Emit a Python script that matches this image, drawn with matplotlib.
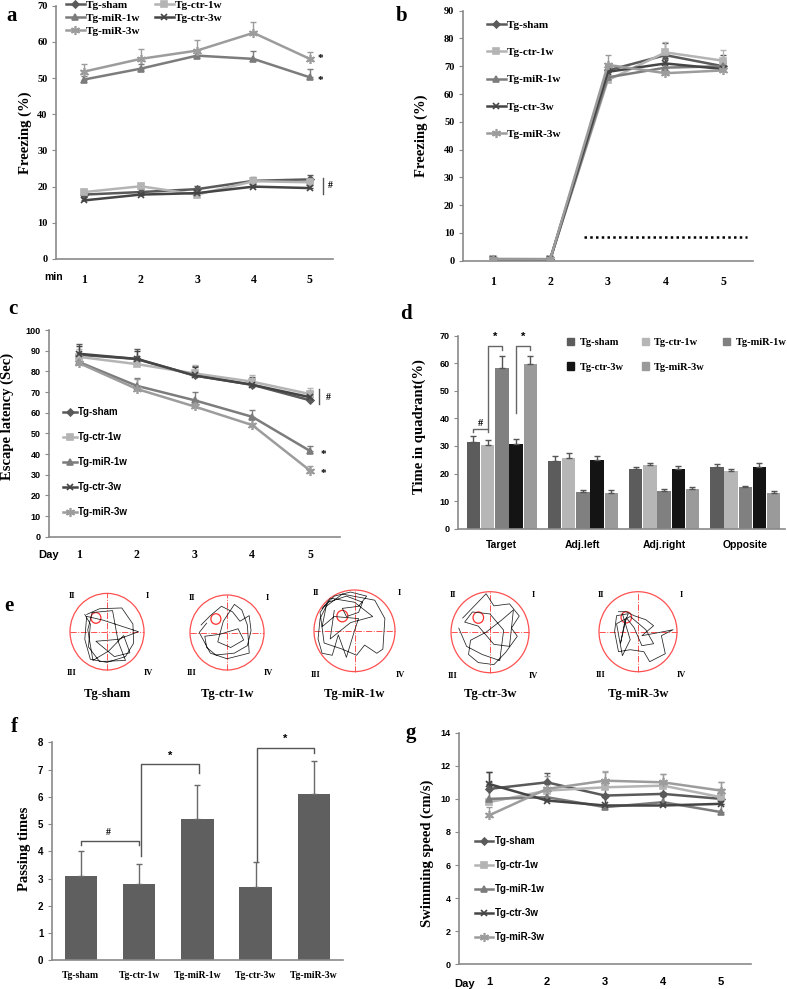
import numpy as np
import matplotlib
matplotlib.use("Agg")
import matplotlib.pyplot as plt
from matplotlib.lines import Line2D
from matplotlib.patches import Patch, Ellipse

W, H = 787, 989
SERIF = "Liberation Serif"
SANS = "Liberation Sans"
plt.rcParams['font.family'] = SERIF
plt.rcParams['font.weight'] = 'bold'

# ---------------- data ----------------
groups = ["Tg-sham", "Tg-ctr-1w", "Tg-miR-1w", "Tg-ctr-3w", "Tg-miR-3w"]
steps = [1, 2, 3, 4, 5]

# panel a: freezing (%) per minute
a_vals = {
    "Tg-sham":   [17.8, 18.5, 19.3, 21.6, 22.0],
    "Tg-ctr-1w": [18.5, 20.1, 17.8, 21.5, 21.2],
    "Tg-miR-1w": [49.6, 52.6, 56.2, 55.3, 50.2],
    "Tg-ctr-3w": [16.2, 17.8, 18.2, 20.0, 19.6],
    "Tg-miR-3w": [51.8, 55.3, 57.6, 62.5, 55.3],
}
a_err = {
    "Tg-sham":   [0.8, 0.8, 1.0, 1.0, 1.2],
    "Tg-ctr-1w": [0.8, 0.8, 0.8, 0.8, 1.0],
    "Tg-miR-1w": [1.0, 1.2, 1.2, 2.2, 2.2],
    "Tg-ctr-3w": [0.8, 0.8, 0.8, 0.8, 0.8],
    "Tg-miR-3w": [2.2, 2.6, 3.0, 3.0, 2.0],
}
# panel b: freezing (%)
b_vals = {
    "Tg-sham":   [0.5, 0.5, 68.5, 74.0, 70.0],
    "Tg-ctr-1w": [0.7, 0.6, 65.0, 75.0, 72.0],
    "Tg-miR-1w": [0.5, 0.5, 66.0, 69.5, 70.0],
    "Tg-ctr-3w": [0.5, 0.5, 68.0, 71.0, 69.0],
    "Tg-miR-3w": [0.5, 0.5, 70.5, 67.5, 68.5],
}
b_err = {
    "Tg-sham":   [0.2, 0.2, 2.0, 4.5, 4.0],
    "Tg-ctr-1w": [0.2, 0.2, 2.0, 3.8, 3.8],
    "Tg-miR-1w": [0.2, 0.2, 2.0, 3.0, 2.0],
    "Tg-ctr-3w": [0.2, 0.2, 2.0, 2.0, 2.0],
    "Tg-miR-3w": [0.2, 0.2, 3.5, 2.0, 2.0],
}
b_dots_x = [2.58, 5.41]
b_dots_y = 8.7
# panel c: escape latency (sec)
c_vals = {
    "Tg-sham":   [88.0, 86.0, 78.0, 73.5, 66.0],
    "Tg-ctr-1w": [87.0, 83.5, 79.0, 75.0, 69.0],
    "Tg-miR-1w": [84.5, 73.0, 66.0, 58.0, 41.5],
    "Tg-ctr-3w": [88.5, 86.0, 78.0, 73.5, 67.5],
    "Tg-miR-3w": [84.0, 71.5, 63.0, 54.0, 32.0],
}
c_err = {
    "Tg-sham":   [5.0, 5.0, 4.5, 4.0, 4.0],
    "Tg-ctr-1w": [4.0, 4.0, 4.0, 3.0, 3.0],
    "Tg-miR-1w": [4.0, 4.0, 4.0, 3.5, 2.5],
    "Tg-ctr-3w": [4.0, 4.0, 4.0, 3.0, 3.0],
    "Tg-miR-3w": [4.0, 5.0, 3.0, 3.0, 2.0],
}
# panel d: time in quadrant (%)
quadrants = ["Target", "Adj.left", "Adj.right", "Opposite"]
d_vals = {
    "Tg-sham":   [31.5, 24.5, 21.5, 22.2],
    "Tg-ctr-1w": [30.2, 25.8, 23.0, 20.8],
    "Tg-miR-1w": [58.2, 13.2, 13.5, 15.0],
    "Tg-ctr-3w": [30.8, 25.0, 21.5, 22.5],
    "Tg-miR-3w": [59.8, 12.9, 14.3, 12.9],
}
d_err = {
    "Tg-sham":   [2.0, 2.0, 0.8, 1.2],
    "Tg-ctr-1w": [2.0, 1.6, 1.0, 0.8],
    "Tg-miR-1w": [4.5, 1.0, 0.8, 0.6],
    "Tg-ctr-3w": [1.7, 1.3, 1.2, 1.2],
    "Tg-miR-3w": [3.0, 1.0, 0.8, 0.9],
}
# panel e: swim trajectories (normalised arena coordinates)
traj = {
    "Tg-sham": [(-0.55,0.45),(-0.2,0.6),(0.4,0.62),(0.7,0.2),(0.72,-0.3),(0.5,-0.65),(0.0,-0.8),
                (-0.45,-0.72),(-0.6,-0.2),(-0.55,0.4),(-0.1,0.3),(0.85,0.0),(0.3,-0.2),(-0.3,-0.25),
                (0.2,-0.65),(0.62,-0.55),(0.45,-0.1),(0.05,-0.5),(-0.38,-0.75),(-0.52,0.05),(-0.4,0.5),
                (0.15,0.55),(0.3,-0.25),(0.5,-0.75),(-0.2,-0.78),(-0.5,-0.4),(-0.45,0.2),(-0.6,0.45)],
    "Tg-ctr-1w": [(-0.7,0.2),(-0.45,0.45),(-0.15,0.7),(0.15,0.55),(0.35,0.3),(0.6,0.45),(0.65,0.05),
                  (0.55,-0.35),(0.2,-0.55),(-0.3,-0.6),(-0.55,-0.4),(-0.6,-0.1),(-0.2,-0.05),(0.3,0.1),
                  (0.45,-0.2),(0.1,-0.4),(-0.25,-0.25),(-0.1,0.3),(0.2,0.75),(0.4,0.6),(0.55,0.2),
                  (0.6,-0.55),(0.0,-0.7),(-0.45,-0.55),(-0.75,0.0),(-0.55,0.25)],
    "Tg-miR-1w": [(-0.8,0.55),(-0.5,0.85),(-0.1,0.95),(0.3,0.85),(0.1,0.6),(-0.3,0.55),(-0.2,0.35),
                  (0.1,0.45),(0.2,0.7),(-0.2,0.85),(-0.65,0.7),(-0.85,0.3),(-0.9,-0.2),(-0.8,-0.55),
                  (-0.55,-0.6),(-0.4,-0.1),(-0.2,-0.65),(0.0,0.0),(0.1,0.3),(-0.5,0.35),(-0.8,0.1),
                  (-0.7,0.6),(-0.3,0.9),(0.5,0.75),(0.75,0.3),(0.7,-0.45),(0.55,-0.55),(0.25,-0.35),
                  (0.05,-0.6),(-0.3,-0.45),(-0.75,-0.3),(-0.85,0.45),(-0.6,0.8),(0.0,0.7),(0.45,0.35),
                  (-0.1,0.2),(-0.6,-0.2),(-0.5,0.5)],
    "Tg-ctr-3w": [(-0.7,0.35),(-0.4,0.65),(-0.1,0.95),(0.1,0.65),(0.5,0.7),(0.75,0.4),(0.55,0.1),
                  (0.7,-0.1),(0.4,-0.5),(0.1,-0.8),(-0.3,-0.75),(-0.55,-0.55),(-0.5,-0.2),(-0.1,0.0),
                  (0.3,0.3),(0.6,0.55),(0.5,-0.35),(0.1,-0.3),(-0.3,0.15),(-0.65,0.25),(-0.45,0.5),
                  (0.0,0.45),(0.35,0.05),(0.25,-0.7),(-0.2,-0.55),(-0.6,-0.35),(-0.8,0.1)],
    "Tg-miR-3w": [(-0.5,0.5),(-0.3,0.5),(-0.1,0.4),(0.2,0.3),(0.4,0.15),(0.1,-0.1),(0.65,0.0),
                  (0.9,0.05),(0.6,-0.1),(0.7,-0.55),(0.3,-0.75),(0.15,-0.5),(-0.2,-0.45),(-0.5,-0.5),
                  (-0.6,0.0),(-0.55,0.4),(-0.25,0.45),(-0.35,0.2),(-0.45,-0.3),(-0.3,0.35),(-0.1,0.1),
                  (0.1,-0.35),(0.4,-0.3),(0.2,0.05),(-0.2,0.38),(-0.55,0.2),(-0.4,-0.6),(-0.2,-0.2),
                  (-0.4,0.45)],
}
platform_xy = (-0.3, 0.36)
# panel f: passing times
f_vals = [3.1, 2.8, 5.2, 2.7, 6.1]
f_err = [0.9, 0.75, 1.25, 0.92, 1.22]
# panel g: swimming speed (cm/s)
g_vals = {
    "Tg-sham":   [10.6, 11.0, 10.2, 10.3, 10.0],
    "Tg-ctr-1w": [9.8, 10.5, 10.7, 10.8, 10.1],
    "Tg-miR-1w": [10.0, 10.1, 9.5, 9.8, 9.2],
    "Tg-ctr-3w": [10.9, 9.9, 9.6, 9.6, 9.7],
    "Tg-miR-3w": [9.0, 10.6, 11.1, 11.0, 10.5],
}
g_err = {
    "Tg-sham":   [1.0, 0.55, 0.6, 0.6, 0.6],
    "Tg-ctr-1w": [1.0, 0.6, 1.0, 0.7, 0.9],
    "Tg-miR-1w": [1.0, 0.8, 0.8, 0.6, 0.5],
    "Tg-ctr-3w": [0.7, 0.6, 0.5, 0.6, 0.6],
    "Tg-miR-3w": [0.5, 0.8, 0.55, 0.5, 0.5],
}

# ---------------- styles ----------------
line_style = {
    "Tg-sham":   dict(color="#5a5a5a", marker="D", ms=3.5),
    "Tg-ctr-1w": dict(color="#b4b4b4", marker="s", ms=5),
    "Tg-miR-1w": dict(color="#7c7c7c", marker="^", ms=5),
    "Tg-ctr-3w": dict(color="#454545", marker="x", ms=5),
    "Tg-miR-3w": dict(color="#9c9c9c", marker=(6, 2, 0), ms=6.5),
}
bar_colors = {"Tg-sham": "#5c5c5c", "Tg-ctr-1w": "#b6b6b6", "Tg-miR-1w": "#808080",
              "Tg-ctr-3w": "#141414", "Tg-miR-3w": "#9a9a9a"}
SPINE = "#8a8a8a"

fig = plt.figure(figsize=(W / 100, H / 100), dpi=100)


def axes_px(left, top, right, bottom):
    return fig.add_axes([left / W, 1 - bottom / H, (right - left) / W, (bottom - top) / H])


def style_axes(ax, yfont, yfs, xfont, xfs, xpad):
    for s in ["top", "right"]:
        ax.spines[s].set_visible(False)
    for s in ["left", "bottom"]:
        ax.spines[s].set_color(SPINE)
        ax.spines[s].set_linewidth(1.2)
    ax.tick_params(axis="y", direction="out", length=3, color=SPINE, pad=3)
    ax.tick_params(axis="x", length=0, pad=xpad)
    for t in ax.get_yticklabels():
        t.set_fontfamily(yfont); t.set_fontsize(yfs); t.set_fontweight("bold")
    for t in ax.get_xticklabels():
        t.set_fontfamily(xfont); t.set_fontsize(xfs); t.set_fontweight("bold")


def draw_lines(ax, vals, errs):
    handles = {}
    for g in groups:
        st = line_style[g]
        y = np.array(vals[g]); e = np.array(errs[g])
        ax.errorbar(steps, y, yerr=[np.zeros_like(e), e], fmt="none", ecolor=st["color"],
                    elinewidth=1, capsize=2, capthick=1, zorder=2)
        ln, = ax.plot(steps, y, color=st["color"], lw=1.8, marker=st["marker"], ms=st["ms"],
                      mec=st["color"], mfc=st["color"], mew=1.2, zorder=3, label=g)
        handles[g] = ln
    return handles


def panel_letter(txt, px, py):
    fig.text(px / W, 1 - py / H, txt, fontsize=15, fontweight="bold", family=SERIF,
             ha="center", va="center")

# ---------------- panel a ----------------
ax = axes_px(56, 5.7, 333, 259)
hd = draw_lines(ax, a_vals, a_err)
ax.set_xlim(0.5, 5.41); ax.set_ylim(0, 70)
ax.set_xticks(steps); ax.set_yticks(range(0, 71, 10))
style_axes(ax, SERIF, 7.5, SERIF, 8.5, 11)
ax.set_ylabel("Freezing (%)", fontsize=10.5, fontweight="bold", family=SERIF)
ax.yaxis.set_label_coords(-0.085, 0.5)
ax.text(0.025, -0.07, "min", transform=ax.transAxes, family=SANS, fontsize=7.5,
        fontweight="bold", ha="right", va="center")
ax.text(5.13, a_vals["Tg-miR-3w"][4], "*", fontsize=8, ha="left", va="center")
ax.text(5.13, a_vals["Tg-miR-1w"][4] - 0.8, "*", fontsize=8, ha="left", va="center")
ax.plot([5.24, 5.24], [18.1, 22.3], color="#555555", lw=1)
ax.text(5.36, 20.2, "#", fontsize=7, ha="center", va="center")
order2 = ["Tg-sham", "Tg-miR-1w", "Tg-miR-3w", "Tg-ctr-1w", "Tg-ctr-3w"]
leg = ax.legend([hd[g] for g in order2], order2, loc="upper left", ncol=2,
                bbox_to_anchor=(66 / W, 1 - 0.5 / H), bbox_transform=fig.transFigure,
                frameon=False, prop=dict(family=SERIF, weight="bold", size=8),
                handlelength=1.7, handletextpad=0.1, labelspacing=0.28, columnspacing=1.3,
                borderpad=0, borderaxespad=0)
panel_letter("a", 12, 16)

# ---------------- panel b ----------------
ax = axes_px(462.7, 10.7, 753, 260.7)
hd = draw_lines(ax, b_vals, b_err)
ax.plot(b_dots_x, [b_dots_y, b_dots_y], color="black", lw=1.8, ls=(0, (1, 1.3)))
ax.set_xlim(0.48, 5.52); ax.set_ylim(0, 90)
ax.set_xticks(steps); ax.set_yticks(range(0, 91, 10))
style_axes(ax, SERIF, 7.5, SERIF, 8.5, 11)
ax.set_ylabel("Freezing (%)", fontsize=10.5, fontweight="bold", family=SERIF)
ax.yaxis.set_label_coords(-0.118, 0.5)
ax.legend([hd[g] for g in groups], groups, loc="upper left",
          bbox_to_anchor=(487 / W, 1 - 20 / H), bbox_transform=fig.transFigure,
          frameon=False, prop=dict(family=SERIF, weight="bold", size=8),
          handlelength=1.7, handletextpad=0.1, labelspacing=1.58, borderpad=0, borderaxespad=0)
panel_letter("b", 402, 16)

# ---------------- panel c ----------------
ax = axes_px(49, 330, 340, 536.7)
hd = draw_lines(ax, c_vals, c_err)
ax.set_xlim(0.48, 5.52); ax.set_ylim(0, 100)
ax.set_xticks(steps); ax.set_yticks(range(0, 101, 10))
style_axes(ax, SANS, 6.5, SERIF, 8.5, 9)
ax.set_ylabel("Escape latency (Sec)", fontsize=10.5, fontweight="bold", family=SERIF)
ax.yaxis.set_label_coords(-0.12, 0.58)
ax.text(0.0, -0.09, "Day", transform=ax.transAxes, family=SANS, fontsize=8,
        fontweight="bold", ha="center", va="center")
ax.plot([5.16, 5.16], [64.2, 71.3], color="#555555", lw=1)
ax.text(5.31, 67.5, "#", fontsize=7, ha="center", va="center")
ax.text(5.24, c_vals["Tg-miR-1w"][4] - 1.5, "*", fontsize=8, ha="center", va="center")
ax.text(5.24, c_vals["Tg-miR-3w"][4] - 1.3, "*", fontsize=8, ha="center", va="center")
ax.legend([hd[g] for g in groups], groups, loc="upper left",
          bbox_to_anchor=(63 / W, 1 - 407 / H), bbox_transform=fig.transFigure,
          frameon=False, prop=dict(family=SANS, weight="bold", size=7),
          handlelength=1.4, handletextpad=0.1, labelspacing=1.55, borderpad=0, borderaxespad=0)
panel_letter("c", 13, 309)

# ---------------- panel d ----------------
ax = axes_px(458, 335.7, 785, 528.7)
xq = np.arange(len(quadrants))
bw = 0.165; step = 0.175
for i, g in enumerate(groups):
    xs = xq + (i - 2) * step
    ax.bar(xs, d_vals[g], width=bw, color=bar_colors[g], label=g, zorder=2)
    ax.errorbar(xs, d_vals[g], yerr=[np.zeros(len(xq)), d_err[g]], fmt="none",
                ecolor="#555555", elinewidth=1, capsize=2, capthick=1, zorder=3)
ax.set_xlim(-0.54, 3.49); ax.set_ylim(0, 70)
ax.set_xticks(xq); ax.set_xticklabels(quadrants); ax.set_yticks(range(0, 71, 10))
style_axes(ax, SANS, 6.5, SANS, 7.5, 8)
ax.set_ylabel("Time in quadrant(%)", fontsize=10.5, fontweight="bold", family=SERIF)
ax.yaxis.set_label_coords(-0.098, 0.53)
bk = dict(color="#666666", lw=1)
x_sh, x_c1, x_m1, x_c3, x_m3 = [(i - 2) * step for i in range(5)]
ax.plot([x_sh, x_sh, x_c1, x_c1], [35.2, 36.3, 36.3, 35.2], **bk)
ax.text((x_sh + x_c1) / 2, 38.0, "#", fontsize=7.5, ha="center", va="center")
ax.plot([x_c1, x_c1, x_m1, x_m1], [36.3, 66.4, 66.4, 64.8], **bk)
ax.text((x_c1 + x_m1) / 2, 69.5, "*", fontsize=8, ha="center", va="center", family=SANS)
ax.plot([x_c3, x_c3, x_m3, x_m3], [41.8, 66.4, 66.4, 64.8], **bk)
ax.text((x_c3 + x_m3) / 2, 69.5, "*", fontsize=8, ha="center", va="center", family=SANS)
hs = [Patch(color=bar_colors[g]) for g in groups]
ordd = [0, 3, 1, 4, 2]
ax.legend([hs[i] for i in ordd], [groups[i] for i in ordd], loc="upper left", ncol=3,
          bbox_to_anchor=(567 / W, 1 - 338 / H), bbox_transform=fig.transFigure,
          frameon=False, prop=dict(family=SERIF, weight="bold", size=7.5),
          handlelength=0.7, handleheight=0.7, handletextpad=0.5, labelspacing=1.45,
          columnspacing=1.75, borderpad=0, borderaxespad=0)
panel_letter("d", 406, 314)

# ---------------- panel e ----------------
arenas = [  # centre x, centre y, half width, half height (px)
    (107, 631.7, 37, 38.3), (227, 632.5, 37, 37.5), (354.5, 630.8, 40.5, 40.8),
    (490, 632.2, 39, 40.5), (638, 631.7, 39, 40)]
for g, (cx, cy, hw, hh) in zip(groups, arenas):
    ax = axes_px(cx - hw, cy - hh, cx + hw, cy + hh)
    ax.set_xlim(-1, 1); ax.set_ylim(-1, 1); ax.axis("off")
    ax.add_patch(Ellipse((0, 0), 2, 2, fill=False, ec="#ff5050", lw=0.9, clip_on=False))
    ax.plot([-1, 1], [0, 0], color="#ff5050", lw=0.7, ls="-.", clip_on=False)
    ax.plot([0, 0], [-1, 1], color="#ff5050", lw=0.7, ls="-.", clip_on=False)
    ax.add_patch(Ellipse(platform_xy, 0.27, 0.28, fill=False, ec="#ff3030", lw=0.9))
    pts = np.array(traj[g])
    ax.plot(pts[:, 0], pts[:, 1], color="#222222", lw=0.55, clip_on=False)
    rk = dict(fontsize=6, fontweight="bold", family=SERIF, ha="center", va="center")
    ax.text(-0.95, 0.92, "II", **rk); ax.text(1.1, 0.92, "I", **rk)
    ax.text(-0.97, -1.09, "III", **rk); ax.text(1.12, -1.09, "IV", **rk)
    fig.text(cx / W, 1 - 694 / H, g, fontsize=9, fontweight="bold", family=SERIF,
             ha="center", va="center")
panel_letter("e", 9, 606)

# ---------------- panel f ----------------
ax = axes_px(51.7, 742.3, 343, 960.3)
xf = np.arange(len(groups))
ax.bar(xf, f_vals, width=0.56, color="#5f5f5f", zorder=2)
ax.errorbar(xf, f_vals, yerr=[np.zeros(len(xf)), f_err], fmt="none", ecolor="#6a6a6a",
            elinewidth=1, capsize=2, capthick=1, zorder=3)
ax.set_xlim(-0.5, 4.5); ax.set_ylim(0, 8)
ax.set_xticks(xf); ax.set_xticklabels(groups); ax.set_yticks(range(0, 9))
style_axes(ax, SANS, 7, SERIF, 7, 8)
ax.set_ylabel("Passing times", fontsize=10.5, fontweight="bold", family=SERIF)
ax.yaxis.set_label_coords(-0.072, 0.51)
bk = dict(color="#555555", lw=1)
ax.plot([0, 0, 1, 1], [4.23, 4.39, 4.39, 4.23], **bk)
ax.text(0.47, 4.7, "#", fontsize=7, ha="center", va="center")
ax.plot([1.04, 1.04, 2.03, 2.03], [3.84, 7.19, 7.19, 6.89], **bk)
ax.text(1.54, 7.5, "*", fontsize=8, ha="center", va="center", family=SANS)
ax.plot([3.02, 3.02, 4.0, 4.0], [3.62, 7.8, 7.8, 7.62], **bk)
ax.text(3.5, 8.12, "*", fontsize=8, ha="center", va="center", family=SANS)
panel_letter("f", 14, 727)

# ---------------- panel g ----------------
ax = axes_px(459.3, 732.7, 750.7, 964.3)
hd = draw_lines(ax, g_vals, g_err)
ax.set_xlim(0.49, 5.51); ax.set_ylim(0, 14)
ax.set_xticks(steps); ax.set_yticks(range(0, 15, 2))
style_axes(ax, SANS, 6.5, SANS, 8, 9)
ax.set_ylabel("Swimming speed (cm/s)", fontsize=10.5, fontweight="bold", family=SERIF)
ax.yaxis.set_label_coords(-0.087, 0.48)
ax.text(0.017, -0.085, "Day", transform=ax.transAxes, family=SANS, fontsize=8,
        fontweight="bold", ha="center", va="center")
ax.legend([hd[g] for g in groups], groups, loc="upper left",
          bbox_to_anchor=(475 / W, 1 - 836 / H), bbox_transform=fig.transFigure,
          frameon=False, prop=dict(family=SANS, weight="bold", size=7),
          handlelength=1.9, handletextpad=0.1, labelspacing=1.45, borderpad=0, borderaxespad=0)
panel_letter("g", 411, 733)

fig.savefig("out.png", dpi=100)
